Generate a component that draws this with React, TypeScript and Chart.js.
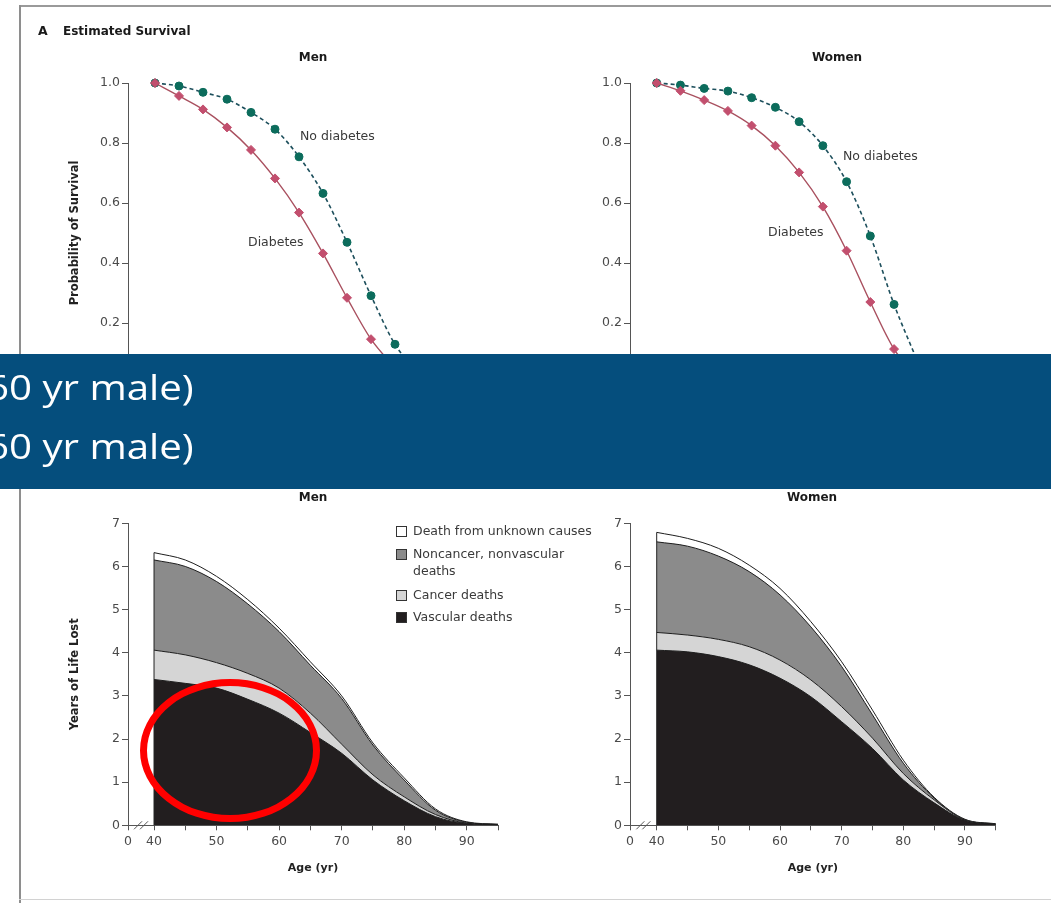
import React, { useEffect, useRef } from "react";
import { Chart, registerables } from "chart.js";

Chart.register(...registerables);
Chart.defaults.font.family = '"DejaVu Sans", sans-serif';

const PAGE_W = 1051;
const PAGE_H = 903;

// ---------- Panel A: Estimated Survival ----------
const SURVIVAL_AGES = [40, 45, 50, 55, 60, 65, 70, 75, 80, 85, 90, 95];
const MEN_DIABETES = [1.0, 0.957, 0.912, 0.852, 0.777, 0.682, 0.568, 0.432, 0.284, 0.146, 0.05];
const MEN_NO_DIABETES = [1.0, 0.99, 0.969, 0.946, 0.902, 0.846, 0.754, 0.632, 0.469, 0.291, 0.129, 0.03];
const WOMEN_DIABETES = [1.0, 0.974, 0.943, 0.907, 0.858, 0.791, 0.702, 0.588, 0.441, 0.27, 0.113, 0.02];
const WOMEN_NO_DIABETES = [1.0, 0.993, 0.982, 0.973, 0.951, 0.919, 0.871, 0.791, 0.671, 0.49, 0.262, 0.07];
const SURVIVAL_TICKS = [0, 0.2, 0.4, 0.6, 0.8, 1.0];

// ---------- Panel B: Years of Life Lost ----------
const YLL_AGES = [40, 45, 50, 55, 60, 65, 70, 75, 80, 85, 90, 95];
const AGE_TICK_MARKS = [40, 45, 50, 55, 60, 65, 70, 75, 80, 85, 90, 95];
const YLL_TICKS = [0, 1, 2, 3, 4, 5, 6, 7];
const MEN_VASCULAR = [3.38, 3.29, 3.18, 2.92, 2.6, 2.15, 1.67, 1.05, 0.57, 0.2, 0.04, 0.01];
const MEN_CANCER = [0.68, 0.66, 0.59, 0.6, 0.58, 0.45, 0.21, 0.12, 0.09, 0.05, 0.01, 0.005];
const MEN_NONCANCER = [2.09, 2.05, 1.88, 1.61, 1.31, 1.11, 1.06, 0.69, 0.39, 0.1, 0.02, 0.005];
const MEN_UNKNOWN = [0.17, 0.15, 0.12, 0.1, 0.08, 0.08, 0.06, 0.05, 0.05, 0.03, 0.01, 0.005];
const WOMEN_VASCULAR = [4.06, 4.02, 3.91, 3.72, 3.41, 2.98, 2.4, 1.78, 1.05, 0.52, 0.11, 0.02];
const WOMEN_CANCER = [0.41, 0.39, 0.4, 0.42, 0.42, 0.39, 0.35, 0.24, 0.15, 0.07, 0.01, 0.005];
const WOMEN_NONCANCER = [2.1, 2.06, 1.93, 1.74, 1.51, 1.23, 0.93, 0.54, 0.24, 0.04, 0.01, 0.005];
const WOMEN_UNKNOWN = [0.22, 0.18, 0.18, 0.15, 0.15, 0.12, 0.11, 0.11, 0.07, 0.02, 0.01, 0.005];
const CAUSE_LABELS = ["Vascular deaths", "Cancer deaths", "Noncancer, nonvascular\ndeaths", "Death from unknown causes"];
const CAUSE_COLORS = ["#221e1f", "#d5d5d5", "#8b8b8b", "#ffffff"];

// ---------- styles ----------
const AXIS = "#555555";
const TICK_TEXT = "#4a4a4a";
const TITLE_TEXT = "#222222";
const DIAB_LINE = "#a9505f";
const DIAB_POINT = "#c24f6e";
const NODIAB_LINE = "#1d4f5c";
const NODIAB_POINT = "#0c6c5c";
const Y_AXIS_W = 60;

type Area = { left: number; top: number; right: number; bottom: number };

function padFor(area: Area, xH: number) {
  return {
    left: area.left - Y_AXIS_W,
    top: area.top,
    right: PAGE_W - area.right,
    bottom: PAGE_H - area.bottom - xH,
  };
}

const axisBreak = {
  id: "axisBreak",
  afterDraw(chart: any) {
    const xs = chart.scales.x;
    const ys = chart.scales.y;
    const ctx = chart.ctx;
    const y = ys.getPixelForValue(0);
    const cx = xs.getPixelForValue((xs.min + 40) / 2);
    ctx.save();
    ctx.strokeStyle = AXIS;
    ctx.lineWidth = 1;
    for (const dx of [-3, 3]) {
      ctx.beginPath();
      ctx.moveTo(cx + dx - 4, y + 4);
      ctx.lineTo(cx + dx + 4, y - 4);
      ctx.stroke();
    }
    ctx.restore();
  },
};

const leftEdge = {
  id: "leftEdge",
  afterDatasetsDraw(chart: any) {
    const xs = chart.scales.x;
    const ys = chart.scales.y;
    const total = chart.data.datasets.reduce((s: number, d: any) => s + d.data[0].y, 0);
    const x = xs.getPixelForValue(YLL_AGES[0]);
    const ctx = chart.ctx;
    ctx.save();
    ctx.strokeStyle = "#222";
    ctx.lineWidth = 1;
    ctx.beginPath();
    ctx.moveTo(x, ys.getPixelForValue(0));
    ctx.lineTo(x, ys.getPixelForValue(total));
    ctx.stroke();
    ctx.restore();
  },
};

function yAxis(min: number, max: number, ticks: number[], fmt: (v: number) => string, title: string | null, stacked = false) {
  return {
    min,
    max,
    stacked,
    afterBuildTicks: (s: any) => {
      s.ticks = ticks.map((v) => ({ value: v }));
    },
    ticks: { callback: (v: any) => fmt(Number(v)), color: TICK_TEXT, font: { size: 12.5 }, padding: 2 },
    grid: { drawOnChartArea: false, drawTicks: true, tickLength: 6, color: AXIS },
    border: { display: true, color: AXIS, width: 1 },
    title: {
      display: !!title,
      text: title || "",
      color: TITLE_TEXT,
      font: { size: 11.5, weight: "bold", lineHeight: 1.2 },
      padding: 0,
    },
    afterFit: (s: any) => {
      s.width = Y_AXIS_W;
    },
  };
}

function survivalConfig(diab: number[], noDiab: number[], area: Area, xMin: number, xMax: number, yTitle: string | null) {
  const toPts = (vals: number[]) => vals.map((v, i) => ({ x: SURVIVAL_AGES[i], y: v }));
  return {
    type: "line",
    data: {
      datasets: [
        {
          label: "Diabetes",
          data: toPts(diab),
          borderColor: DIAB_LINE,
          borderWidth: 1.4,
          pointStyle: "rectRot",
          pointRadius: 4.5,
          pointBackgroundColor: DIAB_POINT,
          pointBorderColor: DIAB_POINT,
          pointBorderWidth: 1,
          cubicInterpolationMode: "monotone",
          fill: false,
          clip: false,
        },
        {
          label: "No diabetes",
          data: toPts(noDiab),
          borderColor: NODIAB_LINE,
          borderWidth: 1.6,
          borderDash: [4, 3],
          pointStyle: "circle",
          pointRadius: 4,
          pointBackgroundColor: NODIAB_POINT,
          pointBorderColor: NODIAB_POINT,
          pointBorderWidth: 1,
          cubicInterpolationMode: "monotone",
          fill: false,
          clip: false,
        },
      ],
    },
    options: {
      responsive: false,
      animation: false,
      devicePixelRatio: 1,
      events: [],
      layout: { padding: padFor(area, 40) },
      plugins: { legend: { display: false }, tooltip: { enabled: false } },
      scales: {
        x: {
          type: "linear",
          min: xMin,
          max: xMax,
          ticks: { display: false },
          grid: { drawOnChartArea: false, drawTicks: false, color: AXIS },
          border: { display: true, color: AXIS },
          afterFit: (s: any) => {
            s.height = 40;
          },
        },
        y: yAxis(0, 1, SURVIVAL_TICKS, (v) => (v === 0 ? "0" : v.toFixed(1)), yTitle),
      },
    },
    plugins: [axisBreak],
  };
}

const X_H_B = 49.3;

function yllConfig(series: number[][], area: Area, xMin: number, yTitle: string | null) {
  return {
    type: "line",
    data: {
      datasets: series.map((vals, k) => ({
        label: CAUSE_LABELS[k].replace("\n", " "),
        data: vals.map((v, i) => ({ x: YLL_AGES[i], y: v })),
        backgroundColor: CAUSE_COLORS[k],
        borderColor: "#1e1e1e",
        borderWidth: 1,
        pointRadius: 0,
        cubicInterpolationMode: "monotone",
        fill: k === 0 ? "origin" : "-1",
      })),
    },
    options: {
      responsive: false,
      animation: false,
      devicePixelRatio: 1,
      events: [],
      layout: { padding: padFor(area, X_H_B) },
      plugins: { legend: { display: false }, tooltip: { enabled: false } },
      scales: {
        x: {
          type: "linear",
          min: xMin,
          max: 95,
          afterBuildTicks: (s: any) => {
            s.ticks = [{ value: s.min }, ...AGE_TICK_MARKS.map((v) => ({ value: v }))];
          },
          ticks: {
            autoSkip: false,
            maxRotation: 0,
            color: TICK_TEXT,
            font: { size: 12.5 },
            padding: 4,
            callback: (v: any) => {
              const n = Number(v);
              if (n < 40) return "0";
              return n % 10 === 0 ? String(n) : "";
            },
          },
          grid: { drawOnChartArea: false, drawTicks: true, tickLength: 5, color: AXIS },
          border: { display: true, color: AXIS },
          title: {
            display: true,
            text: "Age (yr)",
            color: TITLE_TEXT,
            font: { size: 11, weight: "bold", lineHeight: 1.2 },
            padding: 0,
          },
          afterFit: (s: any) => {
            s.height = X_H_B;
          },
        },
        y: yAxis(0, 7, YLL_TICKS, (v) => String(v), yTitle, true),
      },
    },
    plugins: [axisBreak, leftEdge],
  };
}

function ChartCanvas({ build }: { build: () => any }) {
  const ref = useRef<HTMLCanvasElement | null>(null);
  useEffect(() => {
    const chart = new Chart(ref.current as HTMLCanvasElement, build());
    return () => chart.destroy();
  }, []);
  return (
    <canvas
      ref={ref}
      width={PAGE_W}
      height={PAGE_H}
      style={{ position: "absolute", left: 0, top: 0, width: PAGE_W, height: PAGE_H }}
    />
  );
}

function Label(props: {
  x: number;
  y: number;
  text: string;
  size?: number;
  weight?: number;
  align?: "left" | "center" | "right";
  color?: string;
}) {
  const { x, y, text, size = 12.5, weight = 400, align = "left", color = "#3a3a3a" } = props;
  const style: any = {
    position: "absolute",
    top: y - size / 2,
    lineHeight: size + "px",
    fontSize: size,
    fontWeight: weight,
    color,
    whiteSpace: "pre",
    fontFamily: '"DejaVu Sans", sans-serif',
  };
  if (align === "left") style.left = x;
  else if (align === "center") {
    style.left = x;
    style.transform = "translateX(-50%)";
  } else style.right = PAGE_W - x;
  return <div style={style}>{text}</div>;
}

const LEGEND_ROWS_Y = [617, 595.5, 554.7, 531.7];

export default function App() {
  const menTop: Area = { left: 128, top: 83, right: 491, bottom: 383 };
  const womenTop: Area = { left: 630, top: 83, right: 989, bottom: 383 };
  const menBottom: Area = { left: 128, top: 523.3, right: 498, bottom: 825.3 };
  const womenBottom: Area = { left: 630, top: 523.3, right: 995.8, bottom: 825.3 };

  return (
    <div
      style={{
        position: "fixed",
        left: 0,
        top: 0,
        width: PAGE_W,
        height: PAGE_H,
        background: "#ffffff",
        overflow: "hidden",
      }}
    >
      {/* frame */}
      <div style={{ position: "absolute", left: 19, top: 5, width: PAGE_W - 19, height: 2, background: "#9a9a9a" }} />
      <div style={{ position: "absolute", left: 19, top: 5, width: 2, height: PAGE_H - 5, background: "#8e8e8e" }} />
      <div style={{ position: "absolute", left: 19, top: 899, width: PAGE_W - 19, height: 1, background: "#d2d2d2" }} />

      <ChartCanvas build={() => survivalConfig(MEN_DIABETES, MEN_NO_DIABETES, menTop, 34.375, 110, "Probability of Survival")} />
      <ChartCanvas build={() => survivalConfig(WOMEN_DIABETES, WOMEN_NO_DIABETES, womenTop, 34.375, 110, null)} />
      <ChartCanvas
        build={() => yllConfig([MEN_VASCULAR, MEN_CANCER, MEN_NONCANCER, MEN_UNKNOWN], menBottom, 35.84, "Years of Life Lost")}
      />
      <ChartCanvas
        build={() => yllConfig([WOMEN_VASCULAR, WOMEN_CANCER, WOMEN_NONCANCER, WOMEN_UNKNOWN], womenBottom, 35.67, null)}
      />

      {/* headings */}
      <Label x={38} y={31} text="A" size={12.5} weight={700} color="#1a1a1a" />
      <Label x={63} y={31} text="Estimated Survival" size={12} weight={700} color="#1a1a1a" />
      <Label x={313} y={57} text="Men" size={12} weight={700} align="center" color="#1a1a1a" />
      <Label x={837} y={57} text="Women" size={12} weight={700} align="center" color="#1a1a1a" />
      <Label x={313} y={497} text="Men" size={12} weight={700} align="center" color="#1a1a1a" />
      <Label x={812} y={497} text="Women" size={12} weight={700} align="center" color="#1a1a1a" />

      {/* curve annotations */}
      <Label x={300} y={136} text="No diabetes" />
      <Label x={248} y={242} text="Diabetes" />
      <Label x={843} y={156} text="No diabetes" />
      <Label x={768} y={232} text="Diabetes" />

      {/* legend */}
      {CAUSE_LABELS.map((lab, k) => {
        const yc = LEGEND_ROWS_Y[k];
        return (
          <React.Fragment key={lab}>
            <div
              style={{
                position: "absolute",
                left: 396,
                top: yc - 5.5,
                width: 11,
                height: 11,
                boxSizing: "border-box",
                border: "1px solid #333",
                background: CAUSE_COLORS[k],
              }}
            />
            <div
              style={{
                position: "absolute",
                left: 413,
                top: yc - 8.25,
                lineHeight: "16.5px",
                fontSize: 12.5,
                color: "#3a3a3a",
                whiteSpace: "pre",
                fontFamily: '"DejaVu Sans", sans-serif',
              }}
            >
              {lab}
            </div>
          </React.Fragment>
        );
      })}

      {/* red highlight ellipse */}
      <div
        style={{
          position: "absolute",
          left: 140,
          top: 679,
          width: 180,
          height: 143,
          boxSizing: "border-box",
          border: "7px solid #ff0000",
          borderRadius: "50%",
        }}
      />

      {/* blue banner */}
      <div style={{ position: "absolute", left: 0, top: 354, width: PAGE_W, height: 135, background: "#054e7d" }}>
        {[369.4, 427.9].map((t, i) => (
          <div
            key={i}
            style={{
              position: "absolute",
              right: PAGE_W - 194,
              top: t - 354,
              fontSize: 35,
              lineHeight: "35px",
              color: "#ffffff",
              whiteSpace: "nowrap",
              fontFamily: '"Open Sans", sans-serif',
              transform: "scaleX(1.15)",
              transformOrigin: "right center",
            }}
          >
            60 yr male)
          </div>
        ))}
      </div>
    </div>
  );
}
